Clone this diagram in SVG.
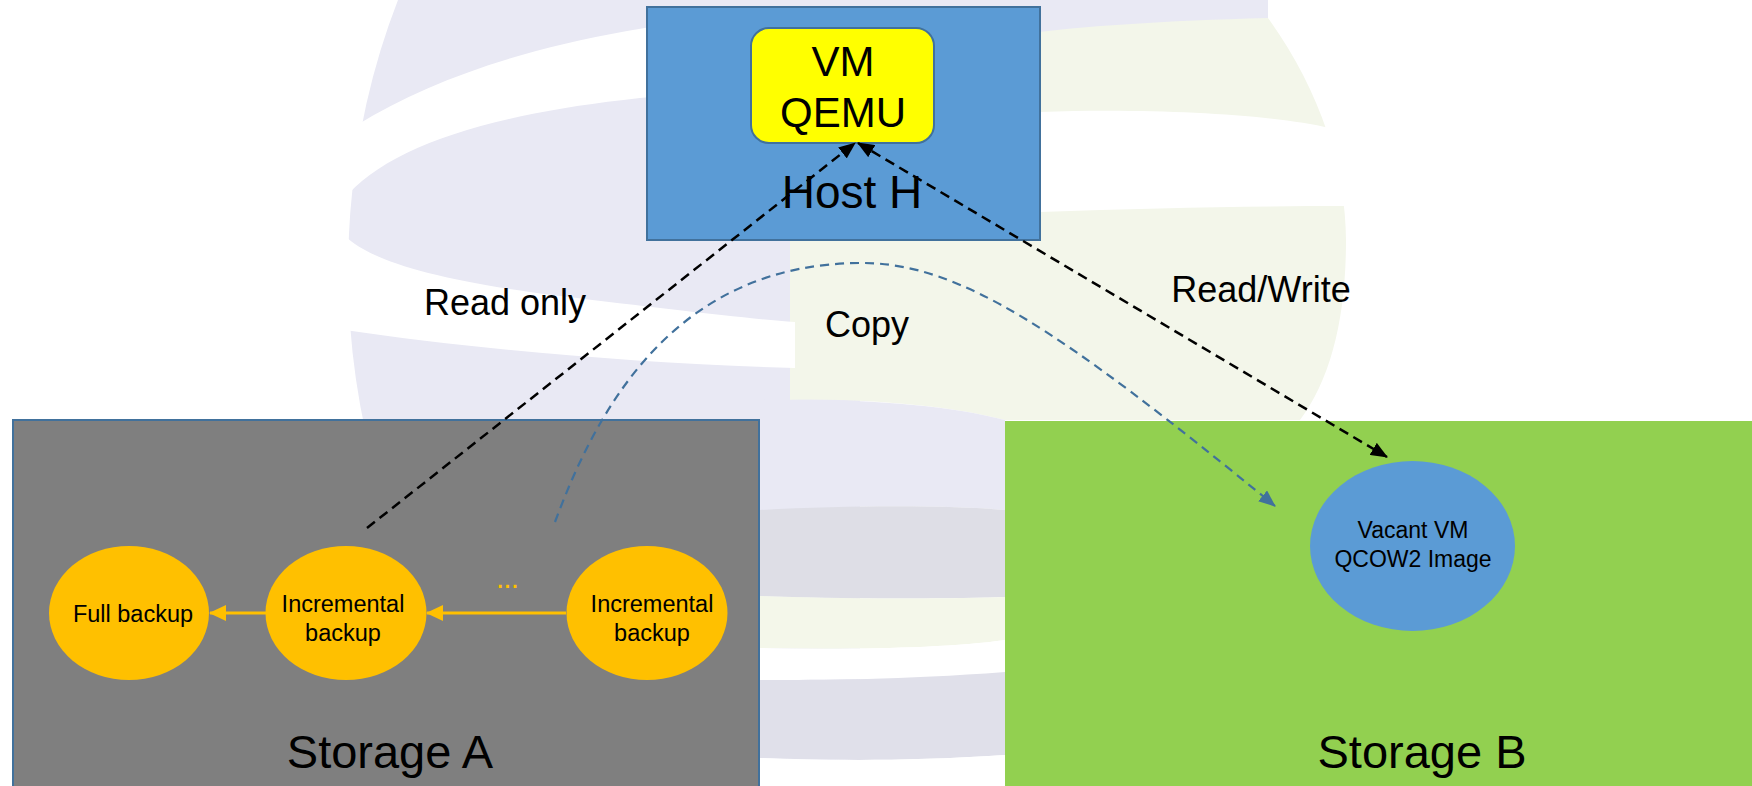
<svg xmlns="http://www.w3.org/2000/svg" width="1752" height="786" viewBox="0 0 1752 786">
<defs>
<style>
.t{font-family:"Liberation Sans",Arial,sans-serif;fill:#000;text-anchor:middle}
.dash{fill:none;stroke:#000;stroke-width:2.5;stroke-dasharray:10,6}
.copy{fill:none;stroke:#41719C;stroke-width:2.2;stroke-dasharray:9,6}
.yl{fill:none;stroke:#FFC000;stroke-width:3}
.lav{fill:#E9E9F4}
.grn{fill:#F3F6EA}
.wh{fill:#FFFFFF}
</style>
<marker id="ab" markerUnits="userSpaceOnUse" markerWidth="17" markerHeight="14" refX="16" refY="7" orient="auto-start-reverse"><path d="M0,0 L17,7 L0,14 Z" fill="#000"/></marker>
<marker id="abl" markerUnits="userSpaceOnUse" markerWidth="17" markerHeight="14" refX="16" refY="7" orient="auto"><path d="M0,0 L17,7 L0,14 Z" fill="#41719C"/></marker>
<marker id="ay" markerUnits="userSpaceOnUse" markerWidth="17" markerHeight="16" refX="16" refY="8" orient="auto"><path d="M0,0 L17,8 L0,16 Z" fill="#FFC000"/></marker>
</defs>
<rect width="1752" height="786" fill="#fff"/>
<g id="watermark">
<path class="lav" d="M1268,0 L398,0 A500,620 0 0 0 571,786 L860,786 L860,90 C950,50 1100,30 1268,20 Z"/>
<path class="grn" d="M790,100 C880,50 1000,25 1268,18 C1320,90 1346,170 1346,240 C1346,320 1330,380 1300,420 L1005,420 C950,405 860,398 790,400 Z"/>
<path class="wh" d="M357,125 C470,55 640,15 860,8 L860,88 L800,88 C560,95 400,130 343,200 C345,170 350,145 357,125 Z"/>
<path class="wh" d="M340,230 C360,258 430,280 560,296 C660,308 740,318 795,322 L795,368 C650,364 480,350 345,330 Z"/>
<path class="wh" d="M1040,112 C1150,108 1270,114 1330,128 L1346,206 C1250,206 1150,208 1040,212 Z"/>
<path class="lav" d="M760,400 C860,398 950,405 1005,420 L1005,510 C950,505 850,505 760,510 Z"/>
<path fill="#DEDEE6" d="M760,510 C850,505 950,505 1005,510 L1005,597 C900,600 820,598 760,596 Z"/>
<path fill="#F4F7EA" d="M760,596 C820,598 900,600 1005,597 L1005,640 C950,648 850,650 760,648 Z"/>
<path class="wh" d="M760,648 C850,650 950,648 1005,640 L1005,672 C900,680 820,680 760,680 Z"/>
<path fill="#E0E0EA" d="M760,680 C820,680 900,680 1005,672 L1005,755 C900,762 820,760 760,758 Z"/>
<path class="wh" d="M760,758 C820,760 900,762 1005,755 L1005,786 L760,786 Z"/>
</g>
<g id="storageA">
<rect x="13" y="420" width="746" height="380" fill="#7F7F7F" stroke="#41719C" stroke-width="2"/>
<text class="t" x="390" y="768" font-size="47">Storage A</text>
</g>
<g id="storageB">
<rect x="1005" y="421" width="760" height="380" fill="#92D050"/>
<text class="t" x="1422" y="768" font-size="47">Storage B</text>
</g>
<g id="hostH">
<rect x="647" y="7" width="393" height="233" fill="#5B9BD5" stroke="#41719C" stroke-width="2"/>
<text class="t" x="852" y="208" font-size="46">Host H</text>
</g>
<g id="vm">
<rect x="751" y="28" width="183" height="115" rx="18" fill="#FFFF00" stroke="#41719C" stroke-width="2"/>
<text class="t" x="843" y="76" font-size="42">VM</text>
<text class="t" x="843" y="127" font-size="42">QEMU</text>
</g>
<g id="fullBackup">
<ellipse cx="129" cy="613" rx="80" ry="67" fill="#FFC000"/>
<text class="t" x="133" y="622" font-size="23.5">Full backup</text>
</g>
<g id="inc1">
<ellipse cx="346" cy="613" rx="80.5" ry="67" fill="#FFC000"/>
<text class="t" x="343" y="612" font-size="23.5">Incremental</text>
<text class="t" x="343" y="641" font-size="23.5">backup</text>
</g>
<g id="inc2">
<ellipse cx="647" cy="613" rx="80.5" ry="67" fill="#FFC000"/>
<text class="t" x="652" y="612" font-size="23.5">Incremental</text>
<text class="t" x="652" y="641" font-size="23.5">backup</text>
</g>
<g id="vacant">
<ellipse cx="1412.5" cy="546" rx="102.5" ry="85" fill="#5B9BD5"/>
<text class="t" x="1413" y="538" font-size="23">Vacant VM</text>
<text class="t" x="1413" y="567" font-size="23">QCOW2 Image</text>
</g>
<g id="connectors">
<path class="yl" d="M266,613 L210,613" marker-end="url(#ay)"/>
<path class="yl" d="M566,613 L427,613" marker-end="url(#ay)"/>
<text x="507" y="588" font-family="Liberation Sans,Arial,sans-serif" font-size="30" fill="#FFC000" text-anchor="middle" letter-spacing="-1">...</text>
<path class="dash" d="M367,528 L855,143" marker-end="url(#ab)"/>
<path class="dash" d="M858,143 L1387,457" marker-start="url(#ab)" marker-end="url(#ab)"/>
<path class="copy" d="M555,522 C600,400 680,263 862,263 C960,263 1060,330 1275,506" marker-end="url(#abl)"/>
<text class="t" x="505" y="315" font-size="36">Read only</text>
<text class="t" x="867" y="337" font-size="36">Copy</text>
<text class="t" x="1261" y="302" font-size="36">Read/Write</text>
</g>
</svg>
